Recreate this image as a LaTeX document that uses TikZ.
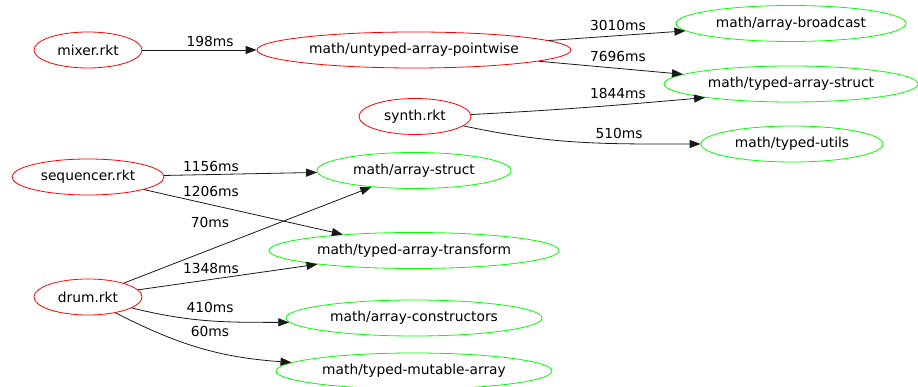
\documentclass[tikz,border=0pt]{standalone}
\usepackage{fontspec}
\setmainfont{DejaVu Sans}
\usetikzlibrary{shapes.geometric,arrows.meta}
\definecolor{modred}{RGB}{255,0,0}
\definecolor{modgreen}{RGB}{0,255,0}
\begin{document}
\begin{tikzpicture}[x=1pt,y=1pt,
  txt/.style={font=\fontsize{13.8}{16}\selectfont},
  mod/.style={ellipse, draw, line width=0.8pt, inner sep=0pt, minimum height=36pt, txt},
  src/.style={mod, draw=modred},
  dep/.style={mod, draw=modgreen},
  edge/.style={draw=black!90, line width=0.8pt, -{Triangle[length=11pt,width=8pt]}},
  lbl/.style={txt, inner sep=0pt}
]
\useasboundingbox (0,0) rectangle (918,387);

% source modules
\node[src, minimum width=108pt] (mixer) at (88,337) {mixer.rkt};
\node[src, minimum width=112pt] (synth) at (415,270.5) {synth.rkt};
\node[src, minimum width=152pt] (seq) at (88,210) {sequencer.rkt};
\node[src, minimum width=108pt] (drum) at (88,90) {drum.rkt};
\node[src, minimum width=314pt] (pw) at (414,337) {math/untyped-array-pointwise};

% library modules
\node[dep, minimum width=230pt] (bc) at (791,363.5) {math/array-broadcast};
\node[dep, minimum width=254pt] (tas) at (791,303) {math/typed-array-struct};
\node[dep, minimum width=182pt] (tu) at (792,243) {math/typed-utils};
\node[dep, minimum width=194pt] (as) at (414,216.5) {math/array-struct};
\node[dep, minimum width=290pt] (tat) at (414,136.5) {math/typed-array-transform};
\node[dep, minimum width=256pt] (cons) at (414,69) {math/array-constructors};
\node[dep, minimum width=276pt] (mut) at (414,16) {math/typed-mutable-array};

% dependency edges
\draw[edge] (mixer) -- (pw);
\draw[edge] (pw) -- (bc);
\draw[edge] (pw) -- (tas);
\draw[edge] (synth.2) to[out=3,in=185] (tas.189);
\draw[edge] (synth.-11) to[out=-12,in=180] (tu.180);
\draw[edge] (seq) -- (as);
\draw[edge] (seq) -- (tat);
\draw[edge] (drum) -- (as);
\draw[edge] (drum) -- (tat);
\draw[edge] (drum.-14) to[out=-14,in=180] (cons.182);
\draw[edge] (drum.-30) to[out=-27,in=176] (mut.176);

% timing labels
\node[lbl] (l198) at (210,346) {198ms};
\node[lbl] (l3010) at (618,362) {3010ms};
\node[lbl] (l7696) at (618,331) {7696ms};
\node[lbl] (l1844) at (618,294) {1844ms};
\node[lbl] (l510) at (619,254) {510ms};
\node[lbl] (l1156) at (211,221) {1156ms};
\node[lbl] (l1206) at (211,196) {1206ms};
\node[lbl] (l70) at (210,165) {70ms};
\node[lbl] (l1348) at (211,119) {1348ms};
\node[lbl] (l410) at (210,80) {410ms};
\node[lbl] (l60) at (210,56) {60ms};
\end{tikzpicture}
\end{document}
